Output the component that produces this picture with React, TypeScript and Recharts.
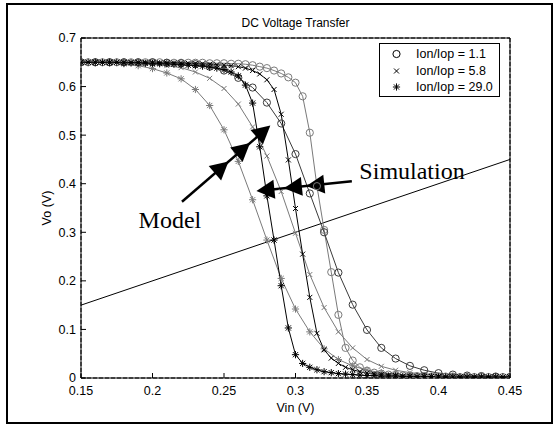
import React from 'react';
import { LineChart, Line, XAxis, YAxis, CartesianGrid, ReferenceLine, ReferenceDot } from 'recharts';

// ---- data ----
const simVin = [
  0.15, 0.155, 0.16, 0.165, 0.17, 0.175, 0.18, 0.185, 0.19, 0.195,
  0.2, 0.205, 0.21, 0.215, 0.22, 0.225, 0.23, 0.235, 0.24, 0.245,
  0.25, 0.255, 0.26, 0.265, 0.27, 0.275, 0.28, 0.285, 0.29, 0.295,
  0.3, 0.305, 0.31, 0.315, 0.32, 0.325, 0.33, 0.335, 0.34, 0.345,
  0.35, 0.355, 0.36, 0.365, 0.37, 0.375, 0.38, 0.385, 0.39, 0.395,
  0.4, 0.405, 0.41, 0.415, 0.42, 0.425, 0.43, 0.435, 0.44, 0.445, 0.45,
];
const modelVin = [
  0.15, 0.16, 0.17, 0.18, 0.19, 0.2, 0.21, 0.22, 0.23, 0.24,
  0.25, 0.26, 0.27, 0.28, 0.29, 0.3, 0.31, 0.32, 0.33, 0.34,
  0.35, 0.36, 0.37, 0.38, 0.39, 0.4, 0.41, 0.42, 0.43, 0.44, 0.45,
];

// Simulation (steep) curves, sampled every 0.005 V
const simO = [
  0.65, 0.65, 0.65, 0.65, 0.65, 0.65, 0.65, 0.65, 0.65, 0.65,
  0.65, 0.65, 0.649, 0.649, 0.649, 0.649, 0.649, 0.649, 0.648, 0.648,
  0.648, 0.647, 0.647, 0.646, 0.644, 0.641, 0.638, 0.633, 0.627, 0.619,
  0.608, 0.58, 0.505, 0.395, 0.305, 0.218, 0.13, 0.062, 0.036, 0.022,
  0.015, 0.011, 0.009, 0.007, 0.006, 0.005, 0.005, 0.004, 0.004, 0.003,
  0.003, 0.003, 0.003, 0.002, 0.002, 0.002, 0.002, 0.002, 0.002, 0.002, 0.002,
];
const simX = [
  0.65, 0.65, 0.65, 0.65, 0.65, 0.65, 0.65, 0.65, 0.65, 0.65,
  0.65, 0.649, 0.649, 0.649, 0.648, 0.648, 0.647, 0.647, 0.646, 0.645,
  0.644, 0.643, 0.641, 0.638, 0.633, 0.626, 0.614, 0.594, 0.543, 0.449,
  0.349, 0.255, 0.166, 0.092, 0.058, 0.041, 0.03, 0.022, 0.017, 0.013,
  0.01, 0.008, 0.007, 0.006, 0.005, 0.004, 0.004, 0.003, 0.003, 0.003,
  0.003, 0.002, 0.002, 0.002, 0.002, 0.002, 0.002, 0.002, 0.002, 0.002, 0.002,
];
const simStar = [
  0.65, 0.65, 0.65, 0.65, 0.65, 0.65, 0.649, 0.649, 0.649, 0.648,
  0.648, 0.647, 0.647, 0.646, 0.645, 0.644, 0.643, 0.642, 0.64, 0.638,
  0.635, 0.63, 0.622, 0.603, 0.566, 0.476, 0.375, 0.284, 0.19, 0.103,
  0.048, 0.03, 0.022, 0.017, 0.013, 0.011, 0.009, 0.008, 0.007, 0.006,
  0.005, 0.005, 0.004, 0.004, 0.004, 0.003, 0.003, 0.003, 0.003, 0.003,
  0.002, 0.002, 0.002, 0.002, 0.002, 0.002, 0.002, 0.002, 0.002, 0.002, 0.002,
];

// Model (gradual) curves, sampled every 0.01 V
const modelO = [
  0.65, 0.65, 0.65, 0.65, 0.65, 0.65, 0.649, 0.648, 0.646, 0.641,
  0.633, 0.618, 0.598, 0.567, 0.524, 0.461, 0.38, 0.3, 0.217, 0.151,
  0.099, 0.062, 0.04, 0.025, 0.016, 0.01, 0.007, 0.005, 0.004, 0.003, 0.002,
];
const modelX = [
  0.65, 0.65, 0.65, 0.649, 0.648, 0.646, 0.643, 0.639, 0.63, 0.617,
  0.596, 0.564, 0.517, 0.457, 0.384, 0.298, 0.213, 0.145, 0.095, 0.062,
  0.038, 0.024, 0.016, 0.011, 0.008, 0.006, 0.004, 0.003, 0.003, 0.002, 0.002,
];
const modelStar = [
  0.65, 0.65, 0.649, 0.647, 0.643, 0.637, 0.628, 0.616, 0.594, 0.561,
  0.511, 0.446, 0.367, 0.284, 0.205, 0.142, 0.095, 0.06, 0.038, 0.025,
  0.016, 0.011, 0.008, 0.006, 0.004, 0.003, 0.003, 0.002, 0.002, 0.002, 0.001,
];

const legendLabels = ['Ion/Iop = 1.1', 'Ion/Iop = 5.8', 'Ion/Iop = 29.0'];
const legendMarkers = ['circle', 'cross', 'star'];
const xTicks = [0.15, 0.2, 0.25, 0.3, 0.35, 0.4, 0.45];
const yTicks = [0, 0.1, 0.2, 0.3, 0.4, 0.5, 0.6, 0.7];
const xDomain = [0.15, 0.45];
const yDomain = [0, 0.7];
const unityLine = [
  { x: 0.15, y: 0.15 },
  { x: 0.45, y: 0.45 },
];
// annotation arrows (data coordinates): start, tip, and fractions where the heads sit
const modelArrow = { from: { x: 0.2206, y: 0.363 }, to: { x: 0.2824, y: 0.52 }, heads: [0.527, 0.77, 1] };
const simArrow = { from: { x: 0.3394, y: 0.405 }, to: { x: 0.2727, y: 0.385 }, heads: [0.477, 0.712, 1] };
const modelLabel = { text: 'Model', x: 0.2122, y: 0.325 };
const simLabel = { text: 'Simulation', x: 0.3815, y: 0.426 };

const toPoints = (xs: number[], ys: number[]) => xs.map((x, i) => ({ x, y: ys[i] }));

const FONT = '"Liberation Sans", Arial, sans-serif';
const SERIF = '"Liberation Serif", "Times New Roman", serif';
const GREY = '#7a7a7a';
const DARK = '#3a3a3a';

const MarkerShape = ({ kind, cx, cy, color }: { kind: string; cx: number; cy: number; color: string }) => {
  if (cx == null || cy == null || isNaN(cx) || isNaN(cy)) return null;
  if (kind === 'circle') {
    return <circle cx={cx} cy={cy} r={3.6} fill="none" stroke={color} strokeWidth={1} />;
  }
  if (kind === 'cross') {
    const s = 2.5;
    return (
      <g stroke={color} strokeWidth={1}>
        <line x1={cx - s} y1={cy - s} x2={cx + s} y2={cy + s} />
        <line x1={cx - s} y1={cy + s} x2={cx + s} y2={cy - s} />
      </g>
    );
  }
  const s = 3.6;
  const d = 2.6;
  return (
    <g stroke={color} strokeWidth={1}>
      <line x1={cx - s} y1={cy} x2={cx + s} y2={cy} />
      <line x1={cx} y1={cy - s} x2={cx} y2={cy + s} />
      <line x1={cx - d} y1={cy - d} x2={cx + d} y2={cy + d} />
      <line x1={cx - d} y1={cy + d} x2={cx + d} y2={cy - d} />
    </g>
  );
};

const dotFor = (kind: string, color: string) => (p: any) => (
  <MarkerShape key={`${kind}-${color}-${p.index}`} kind={kind} cx={p.cx} cy={p.cy} color={color} />
);

const arrowShape = (heads: number[]) => (p: any) => {
  const { x1, y1, x2, y2 } = p;
  if ([x1, y1, x2, y2].some((v) => v == null || isNaN(v))) return <g />;
  const dx = x2 - x1;
  const dy = y2 - y1;
  const len = Math.sqrt(dx * dx + dy * dy) || 1;
  const ux = dx / len;
  const uy = dy / len;
  const nx = -uy;
  const ny = ux;
  const L = 18;
  const W = 9.5;
  return (
    <g>
      <line x1={x1} y1={y1} x2={x2 - ux * 6} y2={y2 - uy * 6} stroke="#000" strokeWidth={2.5} />
      {heads.map((t, i) => {
        const tx = x1 + dx * t;
        const ty = y1 + dy * t;
        const bx = tx - ux * L;
        const by = ty - uy * L;
        return (
          <polygon
            key={i}
            points={`${tx},${ty} ${bx + nx * W},${by + ny * W} ${bx - nx * W},${by - ny * W}`}
            fill="#000"
          />
        );
      })}
    </g>
  );
};

const textLabel = (text: string, size: number) => (p: any) => {
  const { cx, cy } = p;
  if (cx == null || cy == null) return <g />;
  return (
    <text x={cx} y={cy} textAnchor="middle" dominantBaseline="central" fontFamily={SERIF} fontSize={size} fill="#000">
      {text}
    </text>
  );
};

const LegendBox = () => (
  <div
    style={{
      position: 'absolute',
      left: 379,
      top: 43,
      width: 121,
      height: 54,
      boxSizing: 'border-box',
      border: '1px solid #000',
      background: '#fff',
      fontFamily: FONT,
      fontSize: 12.5,
    }}
  >
    {legendLabels.map((lab, i) => (
      <div key={lab} style={{ position: 'absolute', left: 0, top: 2 + i * 16.5, height: 16, width: 119 }}>
        <svg width={30} height={16} style={{ position: 'absolute', left: 0, top: 0 }}>
          <MarkerShape kind={legendMarkers[i]} cx={16.5} cy={8} color="#000" />
        </svg>
        <span style={{ position: 'absolute', left: 36, top: 0, lineHeight: '16px', whiteSpace: 'nowrap' }}>{lab}</span>
      </div>
    ))}
  </div>
);

export default function App() {
  return (
    <div style={{ position: 'absolute', left: 0, top: 0, width: 560, height: 425, background: '#fff' }}>
      <div
        style={{
          position: 'absolute',
          left: 6,
          top: 3,
          width: 547,
          height: 421,
          boxSizing: 'border-box',
          border: '2px solid #000',
        }}
      />
      <div style={{ position: 'absolute', left: 0, top: 0 }}>
        <LineChart width={560} height={425} margin={{ top: 37, right: 49, bottom: 9, left: 41 }}>
          <CartesianGrid stroke="#000" strokeDasharray="4 2" strokeWidth={1} />
          <XAxis
            xAxisId="b"
            dataKey="x"
            type="number"
            domain={xDomain}
            ticks={xTicks}
            allowDataOverflow
            height={38}
            tickSize={-5}
            tickMargin={13}
            stroke="#000"
            tick={{ fill: '#000', fontFamily: FONT, fontSize: 12.5 }}
            tickFormatter={(v: number) => String(v)}
            label={{
              content: (p: any) => {
                const vb = p.viewBox || {};
                return (
                  <text x={vb.x + vb.width / 2} y={412} textAnchor="middle" fontFamily={FONT} fontSize={12.5} fill="#000">
                    Vin (V)
                  </text>
                );
              },
            }}
          />
          <XAxis
            xAxisId="t"
            dataKey="x"
            type="number"
            orientation="top"
            domain={xDomain}
            ticks={xTicks}
            allowDataOverflow
            height={1}
            tickSize={-5}
            tick={false}
            stroke="#000"
            label={{
              content: (p: any) => {
                const vb = p.viewBox || {};
                return (
                  <text x={vb.x + vb.width / 2} y={27} textAnchor="middle" fontFamily={FONT} fontSize={12} fill="#000">
                    DC Voltage Transfer
                  </text>
                );
              },
            }}
          />
          <YAxis
            yAxisId="l"
            type="number"
            domain={yDomain}
            ticks={yTicks}
            allowDataOverflow
            width={40}
            tickSize={-5}
            tickMargin={10}
            stroke="#000"
            tick={{ fill: '#000', fontFamily: FONT, fontSize: 12.5 }}
            tickFormatter={(v: number) => String(v)}
            label={{
              content: (p: any) => {
                const vb = p.viewBox || {};
                const x = 47;
                const y = vb.y + vb.height / 2;
                return (
                  <text
                    x={x}
                    y={y}
                    textAnchor="middle"
                    dominantBaseline="central"
                    transform={`rotate(-90 ${x} ${y})`}
                    fontFamily={FONT}
                    fontSize={12.5}
                    fill="#000"
                  >
                    Vo (V)
                  </text>
                );
              },
            }}
          />
          <YAxis
            yAxisId="r"
            orientation="right"
            type="number"
            domain={yDomain}
            ticks={yTicks}
            allowDataOverflow
            width={1}
            tickSize={-5}
            tick={false}
            stroke="#000"
          />
          <ReferenceLine
            xAxisId="b"
            yAxisId="l"
            segment={unityLine}
            stroke="#000"
            strokeWidth={1}
            ifOverflow="visible"
          />
          <Line xAxisId="b" yAxisId="l" data={toPoints(modelVin, modelStar)} dataKey="y" stroke={GREY} strokeWidth={1} dot={dotFor('star', GREY)} isAnimationActive={false} />
          <Line xAxisId="b" yAxisId="l" data={toPoints(modelVin, modelX)} dataKey="y" stroke={GREY} strokeWidth={1} dot={dotFor('cross', GREY)} isAnimationActive={false} />
          <Line xAxisId="b" yAxisId="l" data={toPoints(simVin, simO)} dataKey="y" stroke={GREY} strokeWidth={1} dot={dotFor('circle', GREY)} isAnimationActive={false} />
          <Line xAxisId="b" yAxisId="l" data={toPoints(modelVin, modelO)} dataKey="y" stroke={DARK} strokeWidth={1} dot={dotFor('circle', DARK)} isAnimationActive={false} />
          <Line xAxisId="b" yAxisId="l" data={toPoints(simVin, simX)} dataKey="y" stroke="#000" strokeWidth={1} dot={dotFor('cross', '#000')} isAnimationActive={false} />
          <Line xAxisId="b" yAxisId="l" data={toPoints(simVin, simStar)} dataKey="y" stroke="#000" strokeWidth={1} dot={dotFor('star', '#000')} isAnimationActive={false} />
          <ReferenceLine
            xAxisId="b"
            yAxisId="l"
            segment={[modelArrow.from, modelArrow.to]}
            ifOverflow="visible"
            shape={arrowShape(modelArrow.heads)}
          />
          <ReferenceLine
            xAxisId="b"
            yAxisId="l"
            segment={[simArrow.from, simArrow.to]}
            ifOverflow="visible"
            shape={arrowShape(simArrow.heads)}
          />
          <ReferenceDot xAxisId="b" yAxisId="l" x={modelLabel.x} y={modelLabel.y} ifOverflow="visible" shape={textLabel(modelLabel.text, 24)} />
          <ReferenceDot xAxisId="b" yAxisId="l" x={simLabel.x} y={simLabel.y} ifOverflow="visible" shape={textLabel(simLabel.text, 24)} />
        </LineChart>
      </div>
      <LegendBox />
    </div>
  );
}
